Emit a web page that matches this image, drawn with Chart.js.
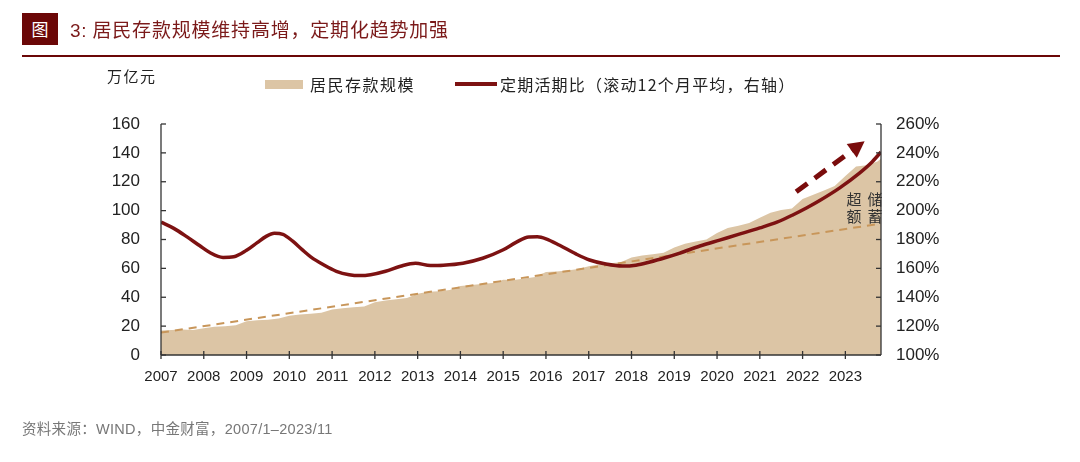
<!DOCTYPE html>
<html>
<head>
<meta charset="utf-8">
<script src="https://cdn.jsdelivr.net/npm/chart.js@4.4.1/dist/chart.umd.min.js"></script>
<style>
  html,body{margin:0;padding:0;background:#fff;}
  #wrap{position:relative;width:1080px;height:462px;overflow:hidden;font-family:"Noto Sans CJK SC","Liberation Sans",sans-serif;}
  canvas{position:absolute;left:0;top:0;}
  .t{position:absolute;line-height:1;white-space:nowrap;}
</style>
</head>
<body>
<div id="wrap">
  <canvas id="c" width="1080" height="462"></canvas>
  <div class="t" style="left:22px;top:13px;width:36px;height:32px;background:#6b0707;color:#fff;font-size:17px;line-height:32px;text-align:center;">图</div>
  <div class="t" style="left:70px;top:19px;color:#7b1a1a;font-size:19px;letter-spacing:0.8px;"><span style="font-family:'Liberation Sans';">3:</span> 居民存款规模维持高增，定期化趋势加强</div>
  <div style="position:absolute;left:22px;top:55px;width:1038px;height:2px;background:#6b0707;"></div>
  <div class="t" style="left:107px;top:68px;color:#222;font-size:15px;letter-spacing:1.5px;">万亿元</div>
  <div style="position:absolute;left:265px;top:80px;width:38px;height:9px;background:#dcc5a5;"></div>
  <div class="t" style="left:310px;top:76px;color:#222;font-size:16px;letter-spacing:1.5px;">居民存款规模</div>
  <div style="position:absolute;left:455px;top:82px;width:42px;height:4px;background:#7d1212;"></div>
  <div class="t" style="left:500px;top:76px;color:#222;font-size:16px;letter-spacing:1.2px;">定期活期比（滚动12个月平均，右轴）</div>
  <div class="t" style="left:22px;top:421px;color:#777;font-size:14.5px;letter-spacing:0.3px;">资料来源：<span style="font-family:'Liberation Sans';">WIND</span>，中金财富，<span style="font-family:'Liberation Sans';">2007/1–2023/11</span></div>
</div>
<script>
// ---- data (x = year as decimal, 2007/1 = 2007.0) ----
const yearTicks = [2007,2008,2009,2010,2011,2012,2013,2014,2015,2016,2017,2018,2019,2020,2021,2022,2023];
const depositDates = [
  2007.0,2007.25,2007.5,2007.75, 2008.0,2008.25,2008.5,2008.75, 2009.0,2009.25,2009.5,2009.75,
  2010.0,2010.25,2010.5,2010.75, 2011.0,2011.25,2011.5,2011.75, 2012.0,2012.25,2012.5,2012.75,
  2013.0,2013.25,2013.5,2013.75, 2014.0,2014.25,2014.5,2014.75, 2015.0,2015.25,2015.5,2015.75,
  2016.0,2016.25,2016.5,2016.75, 2017.0,2017.25,2017.5,2017.75, 2018.0,2018.25,2018.5,2018.75,
  2019.0,2019.25,2019.5,2019.75, 2020.0,2020.25,2020.5,2020.75, 2021.0,2021.25,2021.5,2021.75,
  2022.0,2022.25,2022.5,2022.75, 2023.0,2023.25,2023.5,2023.75, 2023.833];
const depositValues = [
  17.0,17.3,17.6,17.4, 18.6,19.5,20.0,20.6, 23.3,24.0,24.5,25.2,
  27.2,28.0,28.5,29.2, 31.5,32.3,33.0,33.6, 36.5,37.8,38.6,39.5,
  42.5,43.8,44.2,45.0, 47.8,48.5,49.2,49.8, 52.2,52.0,53.0,54.0,
  57.5,57.8,58.6,59.5, 61.5,62.8,63.5,64.3, 67.5,69.0,69.8,70.8,
  74.5,77.0,78.7,80.0, 84.5,88.0,89.5,91.5, 95.0,98.5,100.5,101.5,
  108.0,111.0,114.0,117.0, 124.0,130.5,131.5,134.0, 136.0];
const ratioDates = [
  2007.0,2007.3,2007.6,2007.9,2008.15,2008.45,2008.7,2009.0,2009.25,2009.45,2009.65,2009.85,
  2010.08,2010.3,2010.5,2010.8,2011.1,2011.4,2011.65,2011.9,2012.25,2012.6,2012.95,2013.3,
  2013.6,2014.06,2014.52,2014.99,2015.3,2015.6,2015.8,2016.0,2016.32,2016.7,2017.02,2017.4,
  2017.79,2018.1,2018.43,2018.8,2019.13,2019.6,2020.06,2020.5,2021.0,2021.4,2021.77,2022.1,
  2022.4,2022.86,2023.33,2023.6,2023.833];
const ratioValues = [
  192,187.7,182,175.8,170.8,167.6,168,172.5,177.8,182,184.3,183.6,
  178.8,173,168,162.5,158,155.6,155,155.6,158,161.5,163.6,162,
  162.2,163.6,167,172.7,178,181.8,181.9,180.5,176,170,165.8,163,
  161.6,162.2,164.4,167.5,170.6,175.5,179.6,183.5,188,192,197,202,
  207,215.6,226,233,240.6];
const trendDates = [2007.0, 2023.833];
const trendValues = [15.5, 91];
const arrowFrom = [2021.85, 113];
const arrowTo = [2023.45, 148];
const leftTicks = [0,20,40,60,80,100,120,140,160];
const rightTicks = [100,120,140,160,180,200,220,240,260];

const zip = (xs, ys) => xs.map((x, i) => ({x, y: ys[i]}));

const axesPlugin = {
  id: 'axesPlugin',
  afterDatasetsDraw(chart) {
    const {ctx, chartArea: {left, right, top, bottom}, scales: {x, y, y1}} = chart;
    const line = (x1, y1_, x2, y2) => { ctx.beginPath(); ctx.moveTo(x1, y1_); ctx.lineTo(x2, y2); ctx.stroke(); };
    ctx.save();
    ctx.strokeStyle = '#333'; ctx.lineWidth = 1.3;
    line(left, top, left, bottom);
    line(right, top, right, bottom);
    line(left, bottom, right, bottom);
    leftTicks.forEach(v => { const p = y.getPixelForValue(v); line(left, p, left + 5, p); });
    rightTicks.forEach(v => { const p = y1.getPixelForValue(v); line(right - 5, p, right, p); });
    yearTicks.forEach(v => { const p = x.getPixelForValue(v); line(p, bottom - 4, p, bottom + 4); });
    // arrow
    const ax0 = x.getPixelForValue(arrowFrom[0]), ay0 = y.getPixelForValue(arrowFrom[1]);
    const ax1 = x.getPixelForValue(arrowTo[0]), ay1 = y.getPixelForValue(arrowTo[1]);
    const ang = Math.atan2(ay1 - ay0, ax1 - ax0);
    const headLen = 16, headW = 8.5;
    const bx = ax1 - headLen * Math.cos(ang), by = ay1 - headLen * Math.sin(ang);
    ctx.strokeStyle = '#7a0c0c'; ctx.fillStyle = '#7a0c0c';
    ctx.lineWidth = 5; ctx.setLineDash([14, 9]);
    line(ax0, ay0, bx + 2 * Math.cos(ang), by + 2 * Math.sin(ang));
    ctx.setLineDash([]);
    ctx.beginPath();
    ctx.moveTo(ax1, ay1);
    ctx.lineTo(bx + headW * Math.sin(ang), by - headW * Math.cos(ang));
    ctx.lineTo(bx - headW * Math.sin(ang), by + headW * Math.cos(ang));
    ctx.closePath(); ctx.fill();
    // annotation text
    ctx.fillStyle = '#333';
    ctx.font = '15px "Noto Sans CJK SC"';
    ctx.textAlign = 'center'; ctx.textBaseline = 'middle';
    const c1 = right - 27, c2 = right - 6;
    const r1 = y.getPixelForValue(108), r2 = y.getPixelForValue(96);
    ctx.fillText('超', c1, r1); ctx.fillText('储', c2, r1);
    ctx.fillText('额', c1, r2); ctx.fillText('蓄', c2, r2);
    ctx.restore();
  }
};

const tickFont = {family: '"Liberation Sans", Arial, sans-serif', size: 17};

new Chart(document.getElementById('c'), {
  type: 'line',
  data: {
    datasets: [
      {
        label: '定期活期比（滚动12个月平均，右轴）',
        data: zip(ratioDates, ratioValues),
        yAxisID: 'y1',
        borderColor: '#7d1212',
        borderWidth: 3.5,
        pointRadius: 0,
        fill: false,
        cubicInterpolationMode: 'monotone',
        order: 0
      },
      {
        label: 'trend',
        data: zip(trendDates, trendValues),
        yAxisID: 'y',
        borderColor: '#c8965a',
        borderWidth: 2,
        borderDash: [8, 6],
        pointRadius: 0,
        fill: false,
        order: 1
      },
      {
        label: '居民存款规模',
        data: zip(depositDates, depositValues),
        yAxisID: 'y',
        borderWidth: 0,
        borderColor: 'rgba(0,0,0,0)',
        backgroundColor: '#dcc5a5',
        pointRadius: 0,
        fill: 'origin',
        order: 2
      }
    ]
  },
  options: {
    responsive: false,
    animation: false,
    events: [],
    layout: {padding: {top: 124, left: 0, right: 0, bottom: 0}},
    plugins: {legend: {display: false}, tooltip: {enabled: false}},
    scales: {
      x: {
        type: 'linear',
        min: 2007, max: 2023.833,
        grid: {display: false},
        border: {display: false},
        afterFit: s => { s.height = 107; },
        ticks: {
          stepSize: 1, includeBounds: false, autoSkip: false, maxRotation: 0,
          padding: 5, color: '#222',
          font: {family: '"Liberation Sans", Arial, sans-serif', size: 15},
          callback: v => Number.isInteger(v) ? String(v) : ''
        }
      },
      y: {
        position: 'left', min: 0, max: 160,
        grid: {display: false}, border: {display: false},
        afterFit: s => { s.width = 161; },
        ticks: {stepSize: 20, padding: 13, color: '#222', font: tickFont}
      },
      y1: {
        position: 'right', min: 100, max: 260,
        grid: {display: false}, border: {display: false},
        afterFit: s => { s.width = 199; },
        ticks: {stepSize: 20, padding: 7, color: '#222', font: tickFont, callback: v => v + '%'}
      }
    }
  },
  plugins: [axesPlugin]
});
</script>
</body>
</html>
